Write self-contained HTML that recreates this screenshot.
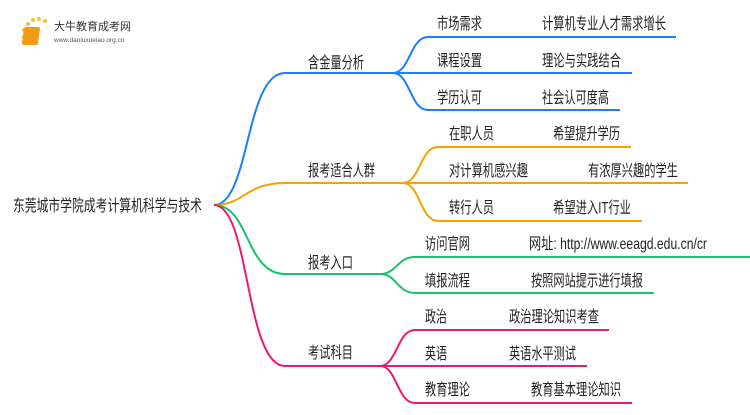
<!DOCTYPE html>
<html><head><meta charset="utf-8"><style>
html,body{margin:0;padding:0;background:#fff;}
svg text{font-family:"Liberation Sans","Noto Sans CJK SC",sans-serif;font-size:16px;fill:#222;}
</style></head><body>
<svg width="750" height="410" viewBox="0 0 750 410" xmlns="http://www.w3.org/2000/svg">
<g fill="none" stroke-width="2">
<g stroke="#1a7fff">
<path d="M214 205 C250 205 245 73 285 73 L393 73"/>
<path d="M393 73 C410 73 410 37 428 37 L676 37"/>
<path d="M393 73 L632 73"/>
<path d="M393 73 C410 73 410 110 428 110 L620 110"/>
</g>
<g stroke="#f5a300">
<path d="M214 205 C245 205 245 183 285 183 L403 183"/>
<path d="M403 183 C420 183 420 147 438 147 L631 147"/>
<path d="M403 183 L688 183"/>
<path d="M403 183 C420 183 420 221 438 221 L642 221"/>
</g>
<g stroke="#19c26b">
<path d="M214 205 C250 205 245 274 285 274 L380 274"/>
<path d="M380 274 C397 274 397 257 415 257 L750 257"/>
<path d="M380 274 C397 274 397 293 415 293 L654 293"/>
</g>
<g stroke="#ec1a6e">
<path d="M214 205 C250 205 245 366 285 366 L380 366"/>
<path d="M380 366 C397 366 397 330 415 330 L609 330"/>
<path d="M380 366 L587 366"/>
<path d="M380 366 C397 366 397 403 415 403 L632 403"/>
</g>
</g>
<g>
<circle cx="24" cy="30" r="2" fill="#f7c23a"/><circle cx="28" cy="24" r="2" fill="#f7c23a"/><circle cx="33" cy="20" r="2" fill="#f7c23a"/><circle cx="39" cy="19" r="2" fill="#f7c23a"/><circle cx="45" cy="21" r="2" fill="#f7c23a"/><circle cx="23" cy="37" r="1.5" fill="#f7c23a"/>
<rect x="28" y="27" width="16" height="18" rx="2" fill="#f29a14" transform="skewX(-8)"/>
<text x="54" y="30" style="font-size:11px;fill:#333">大牛教育成考网</text>
<text x="54" y="42" style="font-size:6.5px;fill:#555">www.daniuxueiao.org.cn</text>
</g>
<text x="13" y="211" textLength="189" lengthAdjust="spacingAndGlyphs">东莞城市学院成考计算机科学与技术</text>
<text x="308" y="68" textLength="56" lengthAdjust="spacingAndGlyphs">含金量分析</text>
<text x="308" y="176" textLength="67" lengthAdjust="spacingAndGlyphs">报考适合人群</text>
<text x="308" y="268" textLength="45" lengthAdjust="spacingAndGlyphs">报考入口</text>
<text x="308" y="358" textLength="45" lengthAdjust="spacingAndGlyphs">考试科目</text>

<text x="437" y="29" textLength="45" lengthAdjust="spacingAndGlyphs">市场需求</text>
<text x="542" y="29" textLength="124" lengthAdjust="spacingAndGlyphs">计算机专业人才需求增长</text>
<text x="437" y="66" textLength="45" lengthAdjust="spacingAndGlyphs">课程设置</text>
<text x="542" y="66" textLength="79" lengthAdjust="spacingAndGlyphs">理论与实践结合</text>
<text x="437" y="103" textLength="45" lengthAdjust="spacingAndGlyphs">学历认可</text>
<text x="542" y="103" textLength="67" lengthAdjust="spacingAndGlyphs">社会认可度高</text>

<text x="449" y="139" textLength="45" lengthAdjust="spacingAndGlyphs">在职人员</text>
<text x="553" y="139" textLength="67" lengthAdjust="spacingAndGlyphs">希望提升学历</text>
<text x="449" y="176" textLength="79" lengthAdjust="spacingAndGlyphs">对计算机感兴趣</text>
<text x="588" y="176" textLength="90" lengthAdjust="spacingAndGlyphs">有浓厚兴趣的学生</text>
<text x="449" y="213" textLength="45" lengthAdjust="spacingAndGlyphs">转行人员</text>
<text x="553" y="213" textLength="78" lengthAdjust="spacingAndGlyphs">希望进入IT行业</text>

<text x="425" y="249" textLength="45" lengthAdjust="spacingAndGlyphs">访问官网</text>
<text x="529" y="249" textLength="178" lengthAdjust="spacingAndGlyphs">网址: http://www.eeagd.edu.cn/cr</text>
<text x="425" y="286" textLength="45" lengthAdjust="spacingAndGlyphs">填报流程</text>
<text x="531" y="286" textLength="112" lengthAdjust="spacingAndGlyphs">按照网站提示进行填报</text>

<text x="425" y="322" textLength="22" lengthAdjust="spacingAndGlyphs">政治</text>
<text x="509" y="322" textLength="90" lengthAdjust="spacingAndGlyphs">政治理论知识考查</text>
<text x="425" y="359" textLength="22" lengthAdjust="spacingAndGlyphs">英语</text>
<text x="509" y="359" textLength="67" lengthAdjust="spacingAndGlyphs">英语水平测试</text>
<text x="425" y="395" textLength="45" lengthAdjust="spacingAndGlyphs">教育理论</text>
<text x="531" y="395" textLength="90" lengthAdjust="spacingAndGlyphs">教育基本理论知识</text>
</svg>
</body></html>
